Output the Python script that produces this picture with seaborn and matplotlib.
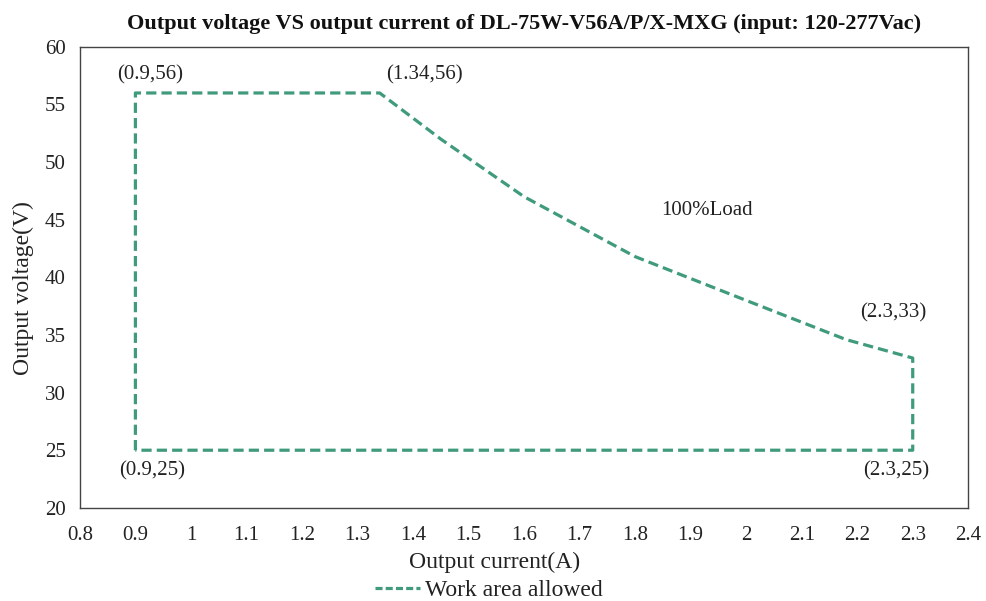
import matplotlib
matplotlib.use("Agg")
import matplotlib.pyplot as plt
import seaborn as sns
import pandas as pd

# outline of the allowed work area (current in A, voltage in V)
current = [0.9, 0.9, 1.34, 1.45, 1.6, 1.8, 2.0, 2.18, 2.3, 2.3, 0.9]
voltage = [25, 56, 56, 52, 47, 41.8, 38.0, 34.6, 33, 25, 25]

# corner labels
label_text = ["(0.9,56)", "(1.34,56)", "(2.3,33)", "(0.9,25)", "(2.3,25)", "100%Load"]
label_x = [0.926, 1.42, 2.265, 0.93, 2.27, 1.93]
label_y = [57.6, 57.6, 36.9, 23.2, 23.2, 45.8]

x_ticks = [0.8, 0.9, 1.0, 1.1, 1.2, 1.3, 1.4, 1.5, 1.6, 1.7, 1.8, 1.9, 2.0, 2.1, 2.2, 2.3, 2.4]
x_tick_labels = ["0.8", "0.9", "1", "1.1", "1.2", "1.3", "1.4", "1.5", "1.6", "1.7",
                 "1.8", "1.9", "2", "2.1", "2.2", "2.3", "2.4"]
y_ticks = [20, 25, 30, 35, 40, 45, 50, 55, 60]

df = pd.DataFrame({"Output current(A)": current, "Output voltage(V)": voltage,
                   "area": "Work area allowed"})

sns.set_theme(style="white")
plt.rcParams['font.family'] = ['Liberation Serif', 'DejaVu Serif']

line_color = '#3f9b7c'
text_color = '#222222'

fig = plt.figure(figsize=(9.86, 6.01), dpi=100)
ax = fig.add_axes([0.081, 0.155, 0.901, 0.767])

sns.lineplot(data=df, x="Output current(A)", y="Output voltage(V)", sort=False,
             estimator=None, color=line_color, linewidth=2.3, ax=ax,
             linestyle=(0, (3.2, 1.6)), legend=False)

for t, x, y in zip(label_text, label_x, label_y):
    ax.text(x, y, t, ha='center', va='center', fontsize=15, color=text_color)

ax.set_xlim(0.8, 2.4)
ax.set_ylim(20, 60)
ax.set_xticks(x_ticks)
ax.set_xticklabels(x_tick_labels)
ax.set_yticks(y_ticks)
ax.tick_params(axis='x', labelsize=15, length=0, pad=13, colors=text_color)
ax.tick_params(axis='y', labelsize=15, length=0, pad=10, colors=text_color)
for s in ax.spines.values():
    s.set_color('#444444')
    s.set_linewidth(1.0)

ax.set_xlabel("Output current(A)", fontsize=17, color=text_color, va='center')
ax.xaxis.set_label_coords(0.467, -0.119)
ax.set_ylabel("Output voltage(V)", fontsize=17, color=text_color, va='center')
ax.yaxis.set_label_coords(-0.063, 0.477)
ax.set_title("Output voltage VS output current of DL-75W-V56A/P/X-MXG (input: 120-277Vac)",
             fontsize=16, fontweight='bold', color='#111111', pad=13)

handle = plt.Line2D([], [], color=line_color, linewidth=2.3, linestyle=(0, (2.2, 1.0)))
fig.legend([handle], ["Work area allowed"], loc='center', bbox_to_anchor=(0.496, 0.018),
           frameon=False, fontsize=17, handlelength=1.9, handletextpad=0.2,
           labelcolor=text_color, borderpad=0.1)

fig.savefig("out.png", dpi=100)
